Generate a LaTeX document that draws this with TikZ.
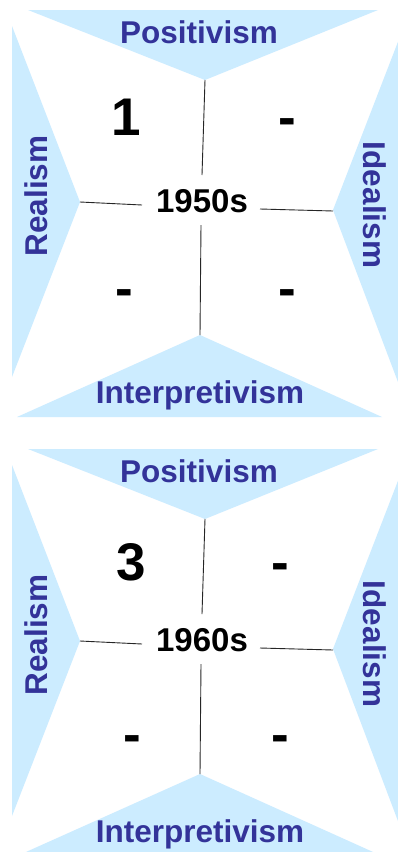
\documentclass[tikz,border=0pt]{standalone}
\usepackage{fontspec}
\setmainfont{Liberation Sans}
\definecolor{triblue}{HTML}{CCECFF}
\definecolor{labblue}{HTML}{333399}
\tikzset{
  tri/.style={fill=triblue, draw=none},
  lab/.style={text=labblue, font=\bfseries\fontsize{31.5}{36}\selectfont, anchor=base, inner sep=0pt},
  yr/.style={text=black, font=\bfseries\fontsize{33}{38}\selectfont, anchor=base, inner sep=0pt},
  num/.style={text=black, font=\bfseries\fontsize{53}{60}\selectfont, anchor=base, inner sep=0pt},
  conn/.style={draw=black!85, line width=0.9pt},
}
\newcommand\drawpanel[2]{%
  % triangles
  \fill[tri] (28,10) -- (378,10) -- (205,80) -- cycle;
  \fill[tri] (12,26) -- (80,202) -- (12,377) -- cycle;
  \fill[tri] (401,34) -- (333,210) -- (401,390) -- cycle;
  \fill[tri] (17,417) -- (382,417) -- (200,335) -- cycle;
  % labels
  \node[lab] (#1-pos) at (199,43) {Positivism};
  \node[lab] (#1-int) at (200,403) {Interpretivism};
  \node[lab, rotate=90] (#1-real) at (47,196) {Realism};
  \node[lab, rotate=-90] (#1-ideal) at (363,205) {Idealism};
  \node[yr] (#1-yr) at (202,212) {#2};
  % connector ends
  \coordinate (#1-at) at (205,80);
  \coordinate (#1-al) at (80,202);
  \coordinate (#1-ar) at (333,211);
  \coordinate (#1-ab) at (200,335);
  \coordinate (#1-yt) at (202,175);
  \coordinate (#1-yl) at (142,205);
  \coordinate (#1-yrr) at (260,209);
  \coordinate (#1-yb) at (201,225);
  \draw[conn] (#1-at) -- (#1-yt);
  \draw[conn] (#1-al) -- (#1-yl);
  \draw[conn] (#1-yrr) -- (#1-ar);
  \draw[conn] (#1-yb) -- (#1-ab);
}
\begin{document}
\begin{tikzpicture}[x=1pt, y=-1pt]
  \useasboundingbox (0,0) rectangle (398,852);
  \clip (0,0) rectangle (398,852);
  \fill[white] (0,0) rectangle (398,852);
  \begin{scope}
    \drawpanel{p1}{1950s}
    \node[num] (p1-q1) at (126,135) {1};
    \node[num] (p1-q2) at (287,135) {-};
    \node[num] (p1-q3) at (124,306) {-};
    \node[num] (p1-q4) at (287,306) {-};
  \end{scope}
  \begin{scope}[shift={(0,439)}]
    \drawpanel{p2}{1960s}
  \end{scope}
  \node[num] (p2-q1) at (131,580) {3};
  \node[num] (p2-q2) at (280,580) {-};
  \node[num] (p2-q3) at (132,752) {-};
  \node[num] (p2-q4) at (280,752) {-};
\end{tikzpicture}
\end{document}
